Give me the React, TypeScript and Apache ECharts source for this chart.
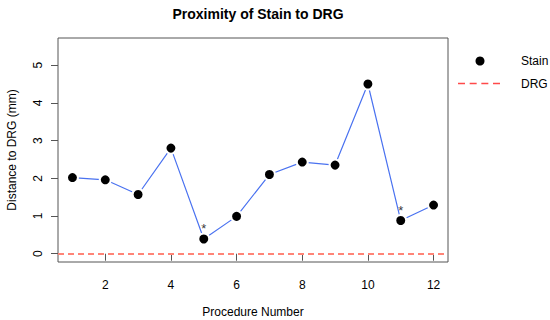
import React, { useEffect, useRef } from "react";
import * as echarts from "echarts";

const procedures = [1, 2, 3, 4, 5, 6, 7, 8, 9, 10, 11, 12];
const stainValues = [2.02, 1.96, 1.57, 2.8, 0.39, 0.99, 2.1, 2.43, 2.35, 4.5, 0.88, 1.29];
const flaggedProcedures = [5, 11];
const drgValue = 0;
const xTicks = [2, 4, 6, 8, 10, 12];
const yTicks = [0, 1, 2, 3, 4, 5];

const FONT = "'Liberation Sans', Arial, Helvetica, sans-serif";

export default function App() {
  const ref = useRef<HTMLDivElement>(null);

  useEffect(() => {
    if (!ref.current) return;
    const chart = echarts.init(ref.current, undefined, { renderer: "svg" });

    const stainData = procedures.map((p, i) => [p, stainValues[i]]);
    const flaggedData = flaggedProcedures.map((p) => [p, stainValues[procedures.indexOf(p)]]);

    chart.setOption({
      animation: false,
      backgroundColor: "#ffffff",
      textStyle: { fontFamily: FONT },
      title: {
        text: "Proximity of Stain to DRG",
        left: 253,
        textAlign: "center",
        top: 2,
        textStyle: { fontFamily: FONT, fontSize: 14, fontWeight: "bold", color: "#000" },
      },
      grid: {
        left: 58,
        right: 102,
        top: 38,
        bottom: 58,
        containLabel: false,
        outerBoundsMode: "none",
        show: true,
        borderColor: "#555",
        borderWidth: 1,
        backgroundColor: "transparent",
      },
      xAxis: {
        type: "value",
        min: 0.56,
        max: 12.44,
        name: "Procedure Number",
        nameLocation: "middle",
        nameGap: 44,
        nameTextStyle: { fontFamily: FONT, fontSize: 12, color: "#000" },
        axisLine: { show: false },
        splitLine: { show: false },
        axisTick: {
          show: true,
          inside: false,
          length: 7,
          customValues: xTicks,
          lineStyle: { color: "#555" },
        },
        axisLabel: {
          customValues: xTicks,
          margin: 17,
          fontFamily: FONT,
          fontSize: 12,
          color: "#000",
        },
      },
      yAxis: {
        type: "value",
        min: -0.22,
        max: 5.72,
        name: "Distance to DRG (mm)",
        nameLocation: "middle",
        nameRotate: 90,
        nameGap: 40.5,
        nameTextStyle: { fontFamily: FONT, fontSize: 12, color: "#000" },
        axisLine: { show: false },
        splitLine: { show: false },
        axisTick: {
          show: true,
          inside: false,
          length: 7,
          customValues: yTicks,
          lineStyle: { color: "#555" },
        },
        axisLabel: {
          customValues: yTicks,
          rotate: 90,
          margin: 14,
          fontFamily: FONT,
          fontSize: 12,
          color: "#000",
        },
      },
      series: [
        {
          name: "DRG",
          type: "line",
          data: [],
          markLine: {
            silent: true,
            symbol: ["none", "none"],
            label: { show: false },
            lineStyle: { color: "#ff8477", type: [6, 4], width: 2 },
            data: [{ yAxis: drgValue }],
          },
        },
        {
          name: "Stain",
          type: "line",
          data: stainData,
          symbol: "circle",
          symbolSize: 11,
          showSymbol: true,
          lineStyle: { color: "#4a72f0", width: 1.2 },
          itemStyle: { color: "#000", borderColor: "#fff", borderWidth: 2 },
          z: 3,
        },
        {
          name: "Flag",
          type: "scatter",
          data: flaggedData,
          symbolSize: 1,
          itemStyle: { color: "rgba(0,0,0,0)" },
          label: {
            show: true,
            formatter: "*",
            position: "top",
            distance: 3,
            fontFamily: FONT,
            fontSize: 13,
            color: "#000",
          },
          z: 4,
        },
      ],
      graphic: [
        {
          type: "circle",
          shape: { cx: 480, cy: 61, r: 4.5 },
          style: { fill: "#000" },
        },
        {
          type: "line",
          shape: { x1: 458, y1: 83.5, x2: 500, y2: 83.5 },
          style: { stroke: "#ff4a4a", lineWidth: 1.5, lineDash: [7, 4.67] },
        },
        {
          type: "text",
          x: 521,
          y: 61,
          style: {
            text: "Stain",
            fontFamily: FONT,
            fontSize: 12,
            fill: "#000",
            verticalAlign: "middle",
            align: "left",
          },
        },
        {
          type: "text",
          x: 521,
          y: 83.5,
          style: {
            text: "DRG",
            fontFamily: FONT,
            fontSize: 12,
            fill: "#000",
            verticalAlign: "middle",
            align: "left",
          },
        },
      ],
    });

    return () => chart.dispose();
  }, []);

  return (
    <div
      ref={ref}
      style={{ position: "fixed", left: 0, top: 0, width: 550, height: 320, background: "#fff" }}
    />
  );
}
